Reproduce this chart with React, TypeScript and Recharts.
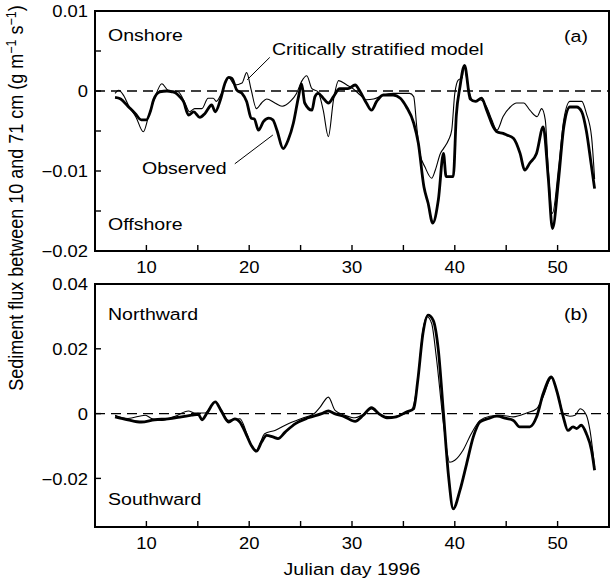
import React from 'react';
import { LineChart, Line, XAxis, YAxis, ReferenceLine } from 'recharts';

const FONT = '"Liberation Sans", Arial, Helvetica, sans-serif';
const SX = 1.15; // horizontal stretch of the reference's lettering

// ---- Data (flux in units of 1e-3 g m^-1 s^-1, x = Julian day 1996) ----
// Panel (a) cross-shore flux, observed
const topObsDays = [6.95, 7.5, 8.2, 8.9, 9.5, 10.0, 10.4, 10.7, 11.3, 12.0, 12.5, 12.9, 13.3, 13.6, 14.1, 14.6, 15.2, 15.7, 16.35, 16.7, 17.2, 17.65, 18.0, 18.3, 18.8, 19.3, 19.75, 20.2, 20.5, 20.9, 21.4, 21.9, 22.3, 22.7, 23.3, 23.8, 24.3, 24.8, 25.1, 25.4, 26.1, 26.4, 26.7, 27.2, 27.7, 28.2, 28.8, 29.6, 30.3, 30.8, 31.4, 31.9, 32.4, 33.05, 34.0, 34.7, 35.3, 36.0, 36.45, 37.0, 37.4, 37.85, 38.4, 38.9, 39.15, 39.85, 40.15, 40.5, 40.95, 41.5, 42.0, 42.6, 43.1, 43.75, 44.1, 44.7, 45.05, 45.7, 46.35, 46.8, 47.3, 47.95, 48.6, 49.1, 49.5, 50.1, 50.6, 51.2, 51.85, 52.35, 52.8, 53.25, 53.6];
const topObsFlux = [-0.8, -1.0, -1.9, -2.8, -3.6, -3.6, -2.5, -1.1, -0.1, 0.0, -0.1, -0.3, -0.8, -1.3, -3.0, -2.6, -3.3, -2.8, -1.75, -2.6, -1.1, 1.0, 1.7, 1.6, 0.1, -0.3, -1.3, -3.4, -3.5, -4.9, -3.8, -3.4, -3.6, -4.9, -7.2, -6.1, -4.0, -0.7, 0.9, -1.5, -2.4, -0.7, -0.3, -0.9, -1.5, -0.7, 0.3, 0.3, 0.75, -0.1, -1.5, -2.4, -1.3, -0.5, -0.5, -0.9, -2.0, -4.0, -6.5, -12.0, -14.0, -16.5, -13.6, -7.8, -10.7, -10.7, -3.0, 0.5, 3.2, -1.0, -1.3, -0.9, -2.4, -4.5, -5.1, -5.3, -5.5, -5.9, -7.8, -9.9, -9.0, -7.8, -4.5, -11.0, -17.2, -11.0, -4.5, -2.0, -2.0, -2.6, -5.0, -9.0, -12.2];
// Panel (a) critically stratified model
const topModelDays = [6.95, 7.3, 7.8, 8.24, 9.0, 9.7, 10.2, 10.7, 11.5, 12.1, 13.1, 13.75, 14.2, 14.7, 15.4, 16.0, 16.5, 16.8, 17.3, 18.0, 18.6, 19.3, 19.75, 20.2, 20.7, 21.2, 21.7, 22.5, 23.2, 24.0, 24.6, 25.1, 25.6, 26.1, 26.7, 27.2, 27.7, 28.2, 28.7, 29.5, 30.1, 30.8, 31.4, 32.1, 33.05, 34.0, 35.6, 36.0, 36.3, 36.6, 37.1, 37.75, 38.1, 38.6, 38.9, 39.4, 39.7, 40.0, 40.35, 40.7, 40.9, 41.3, 41.8, 42.45, 43.1, 43.6, 44.1, 44.7, 45.4, 46.0, 46.7, 47.3, 48.0, 48.45, 48.8, 49.1, 49.5, 50.1, 50.6, 51.2, 51.85, 52.35, 52.8, 53.3, 53.6];
const topModelFlux = [-0.3, 0.1, -0.6, -1.75, -3.3, -5.1, -3.2, -1.3, 0.9, 0.1, -0.1, -1.5, -2.6, -2.2, -2.2, -0.9, -0.9, -1.3, -0.3, 1.7, 0.75, 1.0, 2.3, 0.1, -2.2, -1.5, -1.0, -1.5, -1.9, -1.3, -0.3, 1.2, 1.9, 0.3, -0.1, -2.4, -5.7, -1.1, 1.3, 0.75, 0.3, -0.5, -1.1, -1.0, -0.5, -0.3, -0.3, -0.7, -4.5, -7.8, -9.5, -10.9, -9.9, -7.8, -7.2, -6.1, -4.9, -0.3, 1.4, 1.6, 3.0, 0.5, -1.3, -1.1, -2.0, -3.6, -4.9, -3.2, -2.0, -1.5, -1.5, -2.4, -3.2, -2.2, -3.6, -9.9, -15.3, -9.5, -3.6, -1.3, -1.3, -1.3, -2.8, -5.7, -11.0];
// Panel (b) alongshore flux, observed
const botObsDays = [6.95, 8.2, 9.5, 10.8, 12.1, 13.4, 14.4, 15.05, 15.4, 15.9, 16.7, 17.25, 18.0, 18.6, 19.1, 19.75, 20.2, 20.7, 21.2, 21.7, 22.3, 22.8, 23.5, 24.5, 25.75, 27.05, 27.7, 28.3, 29.3, 30.3, 31.1, 31.9, 32.6, 33.4, 34.3, 35.3, 36.0, 36.4, 36.9, 37.4, 37.9, 38.4, 38.9, 39.4, 39.85, 40.5, 41.15, 41.8, 42.45, 43.3, 44.1, 45.0, 45.7, 46.3, 47.3, 47.96, 48.6, 49.4, 49.9, 50.55, 51.0, 51.5, 51.85, 52.3, 52.8, 53.3, 53.6];
const botObsFlux = [-1.0, -1.9, -2.6, -1.9, -1.6, -1.0, -0.5, -0.2, -1.9, 0.2, 3.6, 1.0, -2.6, -1.6, -2.6, -6.7, -9.8, -11.6, -8.8, -6.7, -7.2, -7.7, -5.7, -3.1, -1.3, 0.0, 0.8, 0.0, -1.0, -2.4, -0.5, 1.8, 0.0, -1.3, -1.0, 0.5, 1.5, 10.3, 24.7, 30.4, 28.8, 19.6, 0.0, -19.6, -29.4, -23.7, -15.5, -7.2, -2.6, -1.5, -0.8, -1.5, -2.1, -4.1, -4.1, -1.0, 6.2, 11.3, 7.2, -1.0, -5.2, -4.1, -4.6, -3.6, -6.2, -11.3, -17.5];
// Panel (b) critically stratified model
const botModelDays = [6.95, 8.2, 9.9, 10.5, 11.5, 12.8, 14.1, 14.7, 15.7, 16.7, 17.3, 18.0, 19.1, 19.75, 20.2, 20.7, 21.5, 22.5, 23.8, 25.1, 26.4, 26.9, 27.7, 28.35, 29.3, 30.3, 31.1, 31.9, 32.7, 33.7, 34.7, 35.8, 36.4, 36.9, 37.3, 37.75, 38.2, 38.9, 39.5, 40.0, 40.8, 41.6, 42.45, 43.4, 44.4, 45.7, 47.0, 47.96, 48.6, 49.4, 50.1, 50.55, 51.2, 51.7, 52.2, 52.8, 53.15, 53.6];
const botModelFlux = [-0.5, -1.5, -0.5, -1.5, -2.1, -0.8, 0.8, 0.2, 0.2, 3.6, 1.0, -2.1, -1.6, -6.0, -9.8, -11.4, -6.2, -5.2, -3.1, -1.5, 0.2, 2.0, 5.1, 1.0, -0.5, -1.3, -0.2, 1.5, -0.2, -1.0, -0.5, 1.2, 10.3, 25.8, 29.9, 27.8, 17.5, -3.1, -15.0, -14.4, -11.3, -6.2, -2.1, -0.8, -0.5, -1.0, 0.2, 1.5, 5.2, 11.1, 5.2, 0.0, -0.8, -0.5, 1.5, -0.5, -5.2, -16.5];

// ---- Axes ----
const xDomain = [5, 55];
const xTicks = [10, 15, 20, 25, 30, 35, 40, 45, 50];
const xTickLabels: Record<string, string> = { '10': '10', '20': '20', '30': '30', '40': '40', '50': '50' };
const topYDomain = [-20, 10];
const topYTicks = [-20, -15, -10, -5, 0, 5, 10];
const topYTickLabels: Record<string, string> = { '-20': '\u22120.02', '-10': '\u22120.01', '0': '0', '10': '0.01' };
const botYDomain = [-35, 40];
const botYTicks = [-20, 0, 20, 40];
const botYTickLabels: Record<string, string> = { '-20': '\u22120.02', '0': '0', '20': '0.02', '40': '0.04' };

// Leader lines (data coordinates)
const criticalLeader = [{ x: 19.8, y: 1.4 }, { x: 22.0, y: 4.2 }];
const observedLeader = [{ x: 18.6, y: -9.1 }, { x: 22.3, y: -5.5 }];

const zip = (d: number[], v: number[]) => d.map((day, i) => ({ day, flux: v[i] }));

const topObs = zip(topObsDays, topObsFlux);
const topModel = zip(topModelDays, topModelFlux);
const botObs = zip(botObsDays, botObsFlux);
const botModel = zip(botModelDays, botModelFlux);

const STR = (x: number, y: number) => `translate(${x},${y}) scale(${SX},1)`;

const makeXTick = () => (props: any) => {
  const { x, y, payload } = props;
  const label = xTickLabels[String(payload.value)];
  if (!label) return <g />;
  return (
    <text transform={STR(x, y)} textAnchor="middle" fontSize={16} fontFamily={FONT} fill="#000">
      {label}
    </text>
  );
};

const makeYTick = (labels: Record<string, string>) => (props: any) => {
  const { x, y, payload } = props;
  const label = labels[String(payload.value)];
  if (!label) return <g />;
  return (
    <text transform={STR(x, y)} dy="0.4em" textAnchor="end" fontSize={16} fontFamily={FONT} fill="#000">
      {label}
    </text>
  );
};

const axisLine = { stroke: '#000', strokeWidth: 2, strokeLinecap: 'square' as const };
const tickLine = { stroke: '#000', strokeWidth: 1.4 };

function Panel(props: {
  height: number;
  margin: { top: number; right: number; bottom: number; left: number };
  yDomain: number[];
  yTicks: number[];
  yLabels: Record<string, string>;
  minorY: number[];
  obs: { day: number; flux: number }[];
  model: { day: number; flux: number }[];
  leaders?: { x: number; y: number }[][];
}) {
  const { height, margin, yDomain, yTicks, yLabels, minorY, obs, model, leaders } = props;
  return (
    <LineChart width={614} height={height} margin={margin}>
      <XAxis
        xAxisId="b"
        type="number"
        dataKey="day"
        domain={xDomain}
        ticks={xTicks}
        allowDataOverflow
        orientation="bottom"
        height={1}
        axisLine={axisLine}
        tickLine={tickLine}
        tickSize={-6}
        tickMargin={28}
        tick={makeXTick()}
        interval={0}
      />
      <XAxis
        xAxisId="t"
        type="number"
        dataKey="day"
        domain={xDomain}
        ticks={xTicks}
        allowDataOverflow
        orientation="top"
        height={1}
        axisLine={axisLine}
        tickLine={tickLine}
        tickSize={-6}
        tick={false}
        interval={0}
      />
      <YAxis
        yAxisId="l"
        type="number"
        domain={yDomain}
        ticks={yTicks}
        allowDataOverflow
        orientation="left"
        width={1}
        axisLine={axisLine}
        tickLine={tickLine}
        tickSize={-6}
        tickMargin={13}
        tick={makeYTick(yLabels)}
        interval={0}
      />
      <YAxis
        yAxisId="r"
        type="number"
        domain={yDomain}
        ticks={minorY}
        allowDataOverflow
        orientation="right"
        width={1}
        axisLine={axisLine}
        tickLine={tickLine}
        tickSize={-6}
        tick={false}
        interval={0}
      />
      <ReferenceLine xAxisId="b" yAxisId="l" y={0} stroke="#000" strokeWidth={1.3} strokeDasharray="10 6" />
      {(leaders || []).map((seg, i) => (
        <ReferenceLine key={i} xAxisId="b" yAxisId="l" segment={seg} stroke="#000" strokeWidth={1} ifOverflow="visible" />
      ))}
      <Line
        xAxisId="b"
        yAxisId="l"
        data={model}
        dataKey="flux"
        type="monotone"
        stroke="#000"
        strokeWidth={1.1}
        dot={false}
        isAnimationActive={false}
      />
      <Line
        xAxisId="b"
        yAxisId="l"
        data={obs}
        dataKey="flux"
        type="monotone"
        stroke="#000"
        strokeWidth={2.8}
        dot={false}
        isAnimationActive={false}
      />
    </LineChart>
  );
}

function T(props: { x: number; y: number; size?: number; anchor?: 'start' | 'middle' | 'end'; children: React.ReactNode }) {
  const { x, y, size = 17, anchor = 'start', children } = props;
  return (
    <text transform={STR(x, y)} fontSize={size} textAnchor={anchor} fontFamily={FONT} fill="#000">
      {children}
    </text>
  );
}

export default function App() {
  return (
    <div style={{ position: 'absolute', left: 0, top: 0, width: 614, height: 588, background: '#fff' }}>
      <div style={{ position: 'absolute', left: 0, top: 0 }}>
        <Panel
          height={280}
          margin={{ top: 10, right: 4, bottom: 28, left: 94 }}
          yDomain={topYDomain}
          yTicks={topYTicks}
          yLabels={topYTickLabels}
          minorY={[-15, -10, -5, 0, 5]}
          obs={topObs}
          model={topModel}
          leaders={[criticalLeader, observedLeader]}
        />
      </div>
      <div style={{ position: 'absolute', left: 0, top: 270 }}>
        <Panel
          height={318}
          margin={{ top: 13, right: 4, bottom: 60, left: 94 }}
          yDomain={botYDomain}
          yTicks={botYTicks}
          yLabels={botYTickLabels}
          minorY={[-20, 0, 20]}
          obs={botObs}
          model={botModel}
        />
      </div>
      <svg width={614} height={588} style={{ position: 'absolute', left: 0, top: 0, pointerEvents: 'none' }}>
        <T x={108} y={40.5}>Onshore</T>
        <T x={108} y={230}>Offshore</T>
        <T x={272} y={55}>Critically stratified model</T>
        <T x={142} y={174}>Observed</T>
        <T x={588} y={42} anchor="end">(a)</T>
        <T x={108} y={320}>Northward</T>
        <T x={108} y={505}>Southward</T>
        <T x={588} y={320} anchor="end">(b)</T>
        <T x={352} y={575} anchor="middle">Julian day 1996</T>
        <text
          transform={`translate(23,198) scale(${SX},1) rotate(-90)`}
          fontSize={18}
          textAnchor="middle"
          fontFamily={FONT}
          fill="#000"
        >
          Sediment flux between 10 and 71 cm (g m
          <tspan dy={-6} fontSize={12.5}>{'\u22121'}</tspan>
          <tspan dy={6}> s</tspan>
          <tspan dy={-6} fontSize={12.5}>{'\u22121'}</tspan>
          <tspan dy={6}>)</tspan>
        </text>
      </svg>
    </div>
  );
}
